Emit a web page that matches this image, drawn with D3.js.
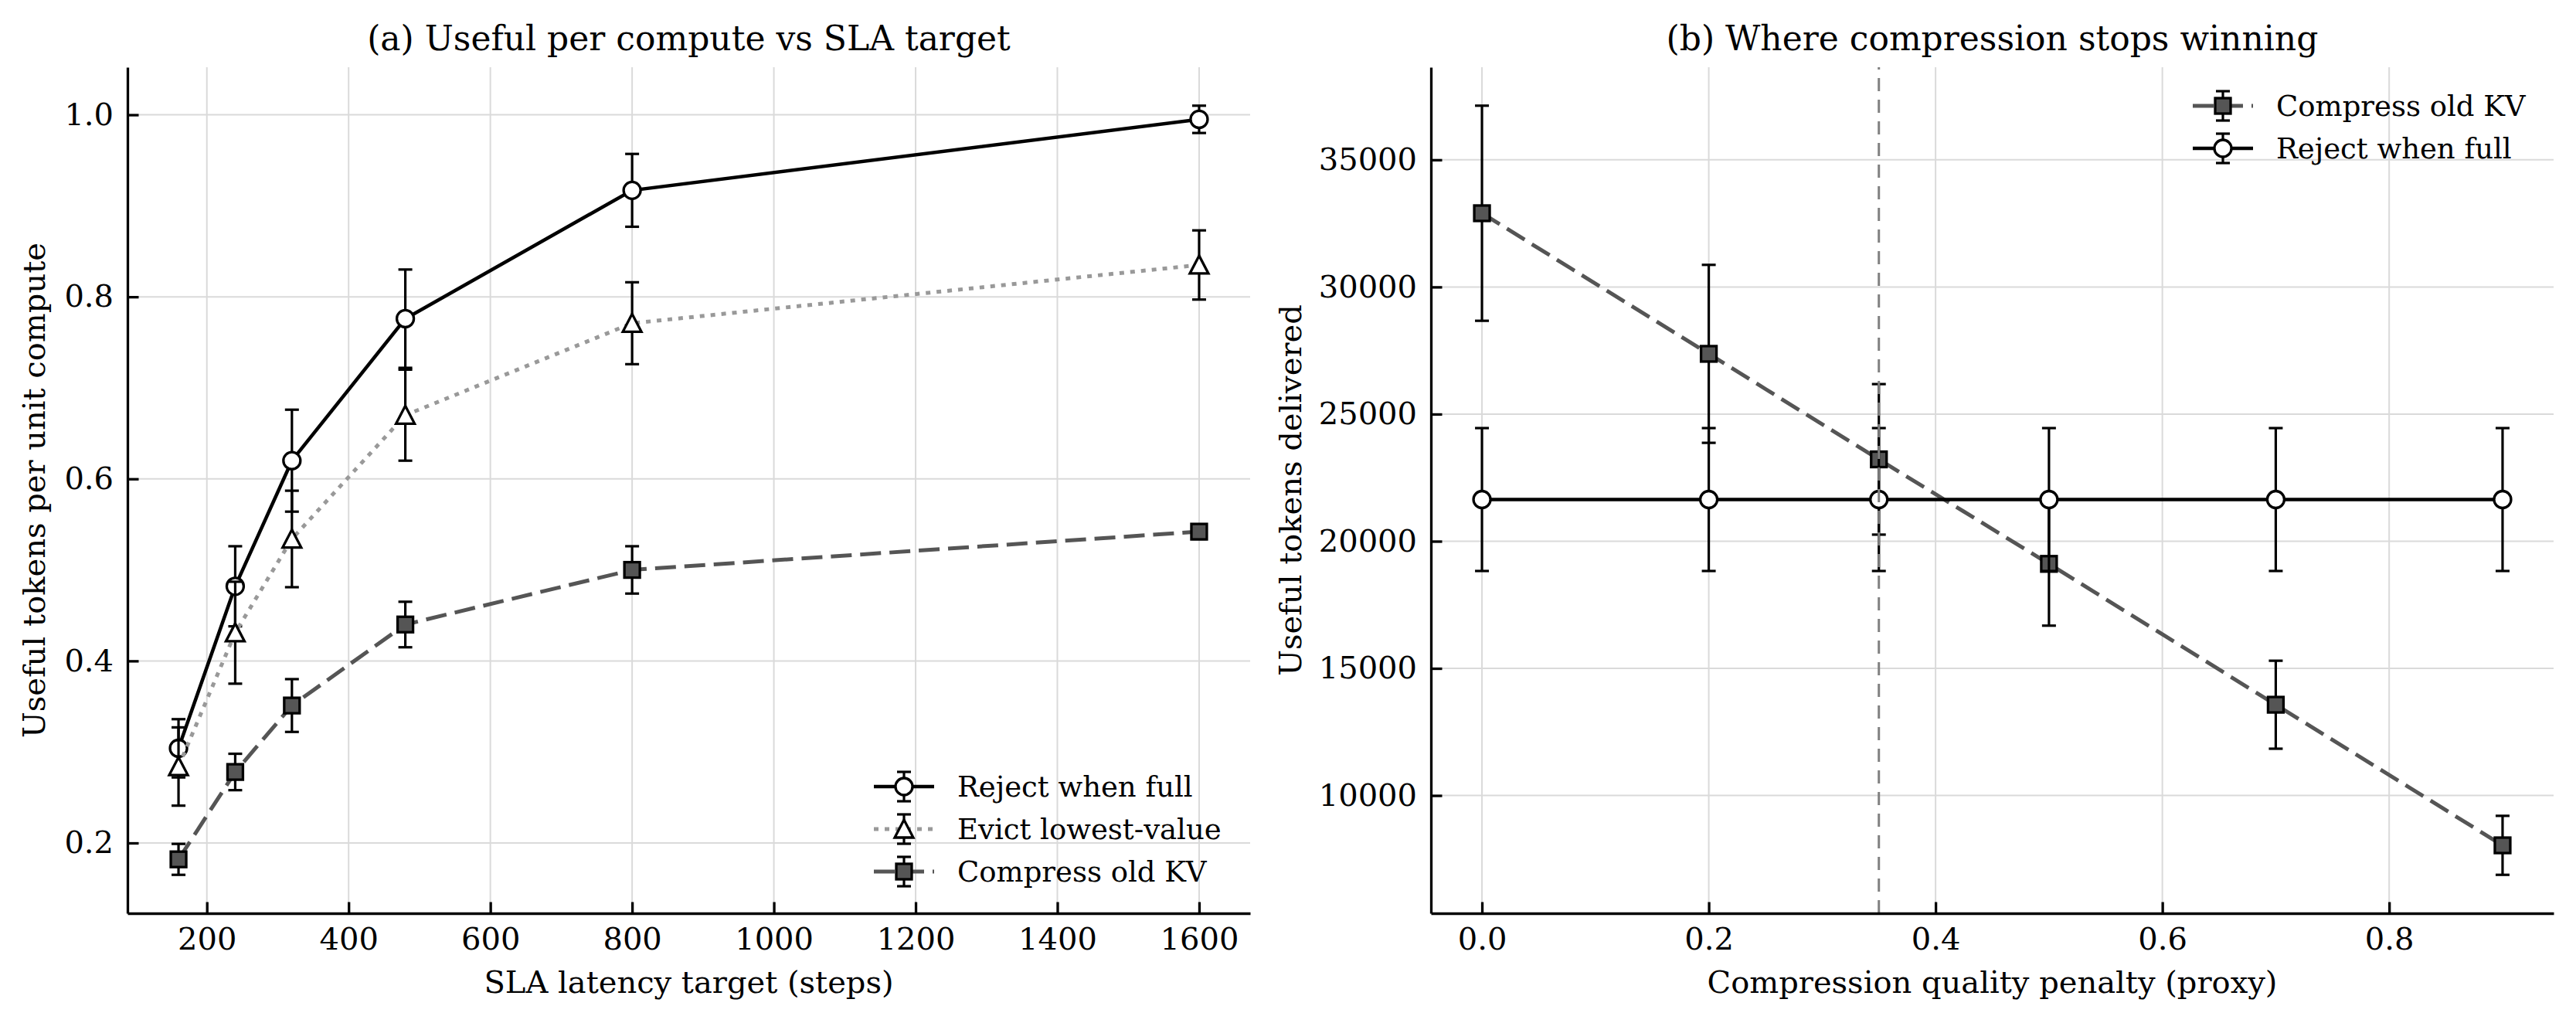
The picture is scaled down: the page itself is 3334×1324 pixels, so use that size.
<!DOCTYPE html>
<html>
<head>
<meta charset="utf-8">
<script src="https://cdn.jsdelivr.net/npm/d3@7"></script>
<style>
  body { margin: 0; background: #fff; }
  text { font-family: 'DejaVu Serif', serif; fill: #000; }
</style>
</head>
<body>
<script>
// Panel (a): useful tokens per unit compute vs SLA latency target
var slaTargets = [160, 240, 320, 480, 800, 1600];
var rejectUseful = [0.304, 0.482, 0.620, 0.776, 0.917, 0.995];
var rejectUsefulErr = [0.032, 0.044, 0.056, 0.054, 0.040, 0.015];
var evictUseful = [0.284, 0.431, 0.534, 0.670, 0.771, 0.835];
var evictUsefulErr = [0.043, 0.056, 0.053, 0.050, 0.045, 0.038];
var compressUseful = [0.182, 0.278, 0.351, 0.440, 0.500, 0.542];
var compressUsefulErr = [0.017, 0.020, 0.029, 0.025, 0.026, 0.008];
var slaTicks = [200, 400, 600, 800, 1000, 1200, 1400, 1600];
var usefulTicks = [0.2, 0.4, 0.6, 0.8, 1.0];

// Panel (b): useful tokens delivered vs compression quality penalty
var penalties = [0.0, 0.2, 0.35, 0.5, 0.7, 0.9];
var compressTokens = [32900, 27370, 23220, 19110, 13570, 8040];
var compressTokensErr = [4230, 3500, 2960, 2430, 1730, 1160];
var rejectTokens = [21640, 21640, 21640, 21640, 21640, 21640];
var rejectTokensErr = [2810, 2810, 2810, 2810, 2810, 2810];
var penaltyTicks = [0.0, 0.2, 0.4, 0.6, 0.8];
var tokenTicks = [10000, 15000, 20000, 25000, 30000, 35000];
var breakEvenPenalty = 0.35;

var W = 3334, H = 1324;
var TITLE_FONT = 44, TICK_FONT = 40, LABEL_FONT = 40, LEGEND_FONT = 37;

var STYLES = {
    reject:   { stroke: '#000000', dash: null,    width: 4.5, marker: 'circle',   fill: '#ffffff' },
    evict:    { stroke: '#999999', dash: '6,8',   width: 5,   marker: 'triangle', fill: '#ffffff' },
    compress: { stroke: '#555555', dash: '27,11', width: 5,   marker: 'square',   fill: '#555555' }
};

var svg = d3.select('body').append('svg')
    .attr('width', W)
    .attr('height', H)
    .attr('xmlns', 'http://www.w3.org/2000/svg');

svg.append('rect').attr('width', W).attr('height', H).attr('fill', '#fff');

// matplotlib-like 5% margins around data incl. error bars
var paddedExtent = function(values, errs) {
    var lo = d3.min(values, function(v, i) { return v - (errs ? errs[i] : 0); });
    var hi = d3.max(values, function(v, i) { return v + (errs ? errs[i] : 0); });
    var pad = (hi - lo) * 0.05;
    return [lo - pad, hi + pad];
};

var addMarker = function(g, kind, fill, x, y) {
    var m;
    if (kind === 'circle') {
        m = g.append('circle').attr('cx', x).attr('cy', y).attr('r', 11);
    } else if (kind === 'square') {
        m = g.append('rect').attr('x', x - 10).attr('y', y - 10).attr('width', 20).attr('height', 20);
    } else {
        m = g.append('path').attr('d', 'M' + x + ',' + (y - 12) + 'L' + (x - 12) + ',' + (y + 11) +
            'L' + (x + 12) + ',' + (y + 11) + 'Z');
    }
    m.attr('fill', fill).attr('stroke', '#000').attr('stroke-width', 3.3)
     .attr('stroke-linejoin', 'miter');
};

var addErrorBar = function(g, x, yTop, yBottom) {
    g.append('line').attr('x1', x).attr('x2', x).attr('y1', yTop).attr('y2', yBottom);
    g.append('line').attr('x1', x - 9).attr('x2', x + 9).attr('y1', yTop).attr('y2', yTop);
    g.append('line').attr('x1', x - 9).attr('x2', x + 9).attr('y1', yBottom).attr('y2', yBottom);
};

var drawPanel = function(opts) {
    var box = opts.box;
    var allY = [], allErr = [];
    opts.series.forEach(function(s) {
        allY = allY.concat(s.y);
        allErr = allErr.concat(s.err);
    });

    var x = d3.scaleLinear().domain(paddedExtent(opts.x)).range([box.left, box.right]);
    var y = d3.scaleLinear().domain(paddedExtent(allY, allErr)).range([box.bottom, box.top]);

    var panel = svg.append('g');

    // grid
    var grid = panel.append('g').attr('stroke', '#dadada').attr('stroke-width', 2);
    grid.selectAll('line.vx').data(opts.xTicks).enter().append('line')
        .attr('x1', function(d) { return x(d); }).attr('x2', function(d) { return x(d); })
        .attr('y1', box.top).attr('y2', box.bottom);
    grid.selectAll('line.hy').data(opts.yTicks).enter().append('line')
        .attr('x1', box.left).attr('x2', box.right)
        .attr('y1', function(d) { return y(d); }).attr('y2', function(d) { return y(d); });

    // series: error bars, line, then markers
    opts.series.forEach(function(s) {
        var st = STYLES[s.style];
        var pts = opts.x.map(function(xv, i) { return [xv, s.y[i], s.err[i]]; });

        var eg = panel.append('g').attr('stroke', '#000').attr('stroke-width', 3.2);
        pts.forEach(function(p) {
            addErrorBar(eg, x(p[0]), y(p[1] + p[2]), y(p[1] - p[2]));
        });

        panel.append('path')
            .datum(pts)
            .attr('fill', 'none')
            .attr('stroke', st.stroke)
            .attr('stroke-width', st.width)
            .attr('stroke-dasharray', st.dash)
            .attr('d', d3.line().x(function(p) { return x(p[0]); }).y(function(p) { return y(p[1]); }));

        var mg = panel.append('g');
        pts.forEach(function(p) { addMarker(mg, st.marker, st.fill, x(p[0]), y(p[1])); });
    });

    if (opts.afterSeries) { opts.afterSeries(panel, x, y); }

    // axes: ticks point inward, only left and bottom spines
    var xAxis = panel.append('g')
        .attr('transform', 'translate(0,' + box.bottom + ')')
        .call(d3.axisBottom(x).tickValues(opts.xTicks).tickFormat(opts.xFormat)
            .tickSizeInner(-14.5).tickSizeOuter(0).tickPadding(19));
    var yAxis = panel.append('g')
        .attr('transform', 'translate(' + box.left + ',0)')
        .call(d3.axisLeft(y).tickValues(opts.yTicks).tickFormat(opts.yFormat)
            .tickSizeInner(-14.5).tickSizeOuter(0).tickPadding(18));
    [xAxis, yAxis].forEach(function(a) {
        a.attr('font-family', null).attr('font-size', null);
        a.selectAll('path.domain').attr('stroke', '#000').attr('stroke-width', 3.3);
        a.selectAll('.tick line').attr('stroke', '#000').attr('stroke-width', 3.3);
        a.selectAll('.tick text').style('font-size', TICK_FONT + 'px');
    });

    var cx = (box.left + box.right) / 2, cy = (box.top + box.bottom) / 2;
    panel.append('text')
        .attr('x', cx).attr('y', 65)
        .attr('text-anchor', 'middle')
        .style('font-size', TITLE_FONT + 'px')
        .text(opts.title);
    panel.append('text')
        .attr('x', cx).attr('y', 1285)
        .attr('text-anchor', 'middle')
        .style('font-size', LABEL_FONT + 'px')
        .text(opts.xLabel);
    panel.append('text')
        .attr('transform', 'translate(' + opts.yLabelX + ',' + cy + ') rotate(-90)')
        .attr('text-anchor', 'middle')
        .attr('dy', '0.35em')
        .style('font-size', LABEL_FONT + 'px')
        .text(opts.yLabel);

    // legend, no frame
    var lg = panel.append('g');
    opts.legend.items.forEach(function(s, i) {
        var st = STYLES[s.style];
        var ry = opts.legend.y + i * 55;
        var hx0 = opts.legend.x, hx1 = opts.legend.x + 78, hc = (hx0 + hx1) / 2;
        lg.append('line')
            .attr('x1', hx0).attr('x2', hx1).attr('y1', ry).attr('y2', ry)
            .attr('stroke', st.stroke).attr('stroke-width', st.width)
            .attr('stroke-dasharray', st.dash);
        var eg = lg.append('g').attr('stroke', '#000').attr('stroke-width', 3.2);
        addErrorBar(eg, hc, ry - 19, ry + 19);
        addMarker(lg, st.marker, st.fill, hc, ry);
        lg.append('text')
            .attr('x', hx1 + 30).attr('y', ry)
            .attr('dy', '0.35em')
            .style('font-size', LEGEND_FONT + 'px')
            .text(s.label);
    });
};

drawPanel({
    box: { left: 165, right: 1618, top: 87, bottom: 1182 },
    x: slaTargets,
    series: [
        { style: 'reject', y: rejectUseful, err: rejectUsefulErr },
        { style: 'evict', y: evictUseful, err: evictUsefulErr },
        { style: 'compress', y: compressUseful, err: compressUsefulErr }
    ],
    xTicks: slaTicks,
    yTicks: usefulTicks,
    xFormat: d3.format('d'),
    yFormat: d3.format('.1f'),
    title: '(a) Useful per compute vs SLA target',
    xLabel: 'SLA latency target (steps)',
    yLabel: 'Useful tokens per unit compute',
    yLabelX: 44,
    legend: {
        x: 1131, y: 1018,
        items: [
            { style: 'reject', label: 'Reject when full' },
            { style: 'evict', label: 'Evict lowest-value' },
            { style: 'compress', label: 'Compress old KV' }
        ]
    }
});

drawPanel({
    box: { left: 1852, right: 3305, top: 87, bottom: 1182 },
    x: penalties,
    series: [
        { style: 'compress', y: compressTokens, err: compressTokensErr },
        { style: 'reject', y: rejectTokens, err: rejectTokensErr }
    ],
    xTicks: penaltyTicks,
    yTicks: tokenTicks,
    xFormat: d3.format('.1f'),
    yFormat: d3.format('d'),
    title: '(b) Where compression stops winning',
    xLabel: 'Compression quality penalty (proxy)',
    yLabel: 'Useful tokens delivered',
    yLabelX: 1670,
    afterSeries: function(panel, x, y) {
        var r = y.range();
        panel.append('line')
            .attr('x1', x(breakEvenPenalty)).attr('x2', x(breakEvenPenalty))
            .attr('y1', r[0]).attr('y2', r[1])
            .attr('stroke', '#808080').attr('stroke-width', 3)
            .attr('stroke-dasharray', '17,11');
    },
    legend: {
        x: 2838, y: 137,
        items: [
            { style: 'compress', label: 'Compress old KV' },
            { style: 'reject', label: 'Reject when full' }
        ]
    }
});
</script>
</body>
</html>
